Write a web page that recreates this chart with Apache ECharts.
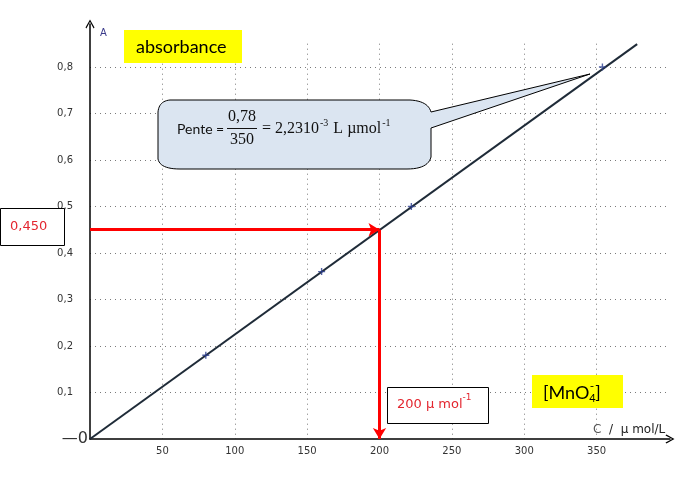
<!DOCTYPE html>
<html>
<head>
<meta charset="utf-8">
<script src="https://cdn.jsdelivr.net/npm/echarts@6/dist/echarts.min.js"></script>
<style>html,body{margin:0;padding:0;background:#fff}#c{width:683px;height:483px}</style>
</head>
<body>
<div id="c"></div>
<script>
// measured points (C in µmol/L, absorbance A)
const ptC = [80, 160, 222, 354];
const ptA = [0.18, 0.36, 0.50, 0.80];
// calibration line endpoints
const fitC = [0, 378];
const fitA = [0, 0.849];
// reading arrows
const readC = 200;
const readA = 0.45;
// axis ranges
const xMin = 0, xMax = 400, xStep = 50;
const yMin = 0, yMax = 0.85, yStep = 0.1;

const chart = echarts.init(document.getElementById('c'), null, {renderer: 'canvas'});
const chevron = 'path://M5,0 L10,9 L9,10 L5,2.6 L1,10 L0,9 Z';
const plus = 'path://M4,0 L6,0 L6,4 L10,4 L10,6 L6,6 L6,10 L4,10 L4,6 L0,6 L0,4 L4,4 Z';
const red = '#e3262f';

const mctx = document.createElement('canvas').getContext('2d');
function W(text, font) { mctx.font = font; return mctx.measureText(text).width; }

function T(x, y, text, font, fill, align, z) {
  return {type: 'text', x: x, y: y, z: z || 20,
    style: {text: text, font: font, fill: fill || '#000',
      align: align || 'left', verticalAlign: 'middle',
      textAlign: align || 'left', textVerticalAlign: 'middle'}};
}
// sequence of text pieces laid out left to right
function seq(x, y, parts, fill) {
  const out = [];
  let cx = x;
  parts.forEach(p => {
    out.push(T(cx + (p.dx || 0), y + (p.dy || 0), p.t, p.f, fill));
    cx += W(p.t, p.f) + (p.dx || 0);
  });
  return out;
}
// sample a path of straight and quadratic segments into polygon points
function bubble(cmds) {
  const pts = [];
  let last = null;
  cmds.forEach(c => {
    if (c.length === 2) { pts.push(c); last = c; }
    else {
      const [qx, qy, ex, ey] = c;
      for (let i = 1; i <= 12; i++) {
        const t = i / 12, u = 1 - t;
        pts.push([u * u * last[0] + 2 * u * t * qx + t * t * ex, u * u * last[1] + 2 * u * t * qy + t * t * ey]);
      }
      last = [ex, ey];
    }
  });
  return pts;
}

const serif = '16px "Liberation Serif"';
const serifS = '10px "Liberation Serif"';

const option = {
  animation: false,
  backgroundColor: '#fff',
  grid: [
    {left: 90, right: 14, top: 43.7, bottom: 44},
    {left: 90, right: 13, top: 24, bottom: 44}
  ],
  xAxis: [
    {type: 'value', gridIndex: 0, min: xMin, max: xMax, interval: xStep,
      axisLine: {show: false}, axisTick: {show: false},
      axisLabel: {fontFamily: 'DejaVu Sans', fontSize: 10, color: '#333', margin: 7,
        formatter: v => (v === 0 || v === xMax) ? '' : String(v)},
      splitLine: {show: true, showMinLine: false, showMaxLine: false,
        lineStyle: {color: '#7a7a7a', width: 1, type: [1, 4]}}},
    {type: 'value', gridIndex: 1, min: 0, max: 1,
      axisLine: {show: true, onZero: false, lineStyle: {color: '#000', width: 1.5},
        symbol: ['none', chevron], symbolSize: [12, 9]},
      axisTick: {show: false}, axisLabel: {show: false}, splitLine: {show: false},
      name: '{c|C}{s|  /  µ mol/L}', nameLocation: 'end', nameGap: -77,
      nameTextStyle: {verticalAlign: 'bottom', align: 'left', padding: [0, 0, 3, 0],
        rich: {c: {fontFamily: 'DejaVu Sans', fontSize: 12, color: '#555'},
               s: {fontFamily: 'DejaVu Sans', fontSize: 12, color: '#222'}}}}
  ],
  yAxis: [
    {type: 'value', gridIndex: 0, min: yMin, max: yMax, interval: yStep,
      axisLine: {show: false}, axisTick: {show: false},
      axisLabel: {margin: 2, showMaxLabel: false,
        formatter: v => v === 0 ? '{z|—0}' : (v > 0.82 ? '' : '{n|' + v.toFixed(1).replace('.', ',') + '}'),
        rich: {z: {fontFamily: 'DejaVu Sans', fontSize: 16, color: '#333'},
               n: {fontFamily: 'DejaVu Sans', fontSize: 10, color: '#333', padding: [0, 15, 0, 0]}}},
      splitLine: {show: true, showMinLine: false, showMaxLine: false,
        lineStyle: {color: '#7a7a7a', width: 1, type: [1, 4]}}},
    {type: 'value', gridIndex: 1, min: 0, max: 1,
      axisLine: {show: true, onZero: false, lineStyle: {color: '#000', width: 1.5},
        symbol: ['none', chevron], symbolSize: [12, 9]},
      axisTick: {show: false}, axisLabel: {show: false}, splitLine: {show: false},
      name: 'A', nameLocation: 'end', nameGap: -9,
      nameTextStyle: {fontFamily: 'DejaVu Sans', fontSize: 10, color: '#3a3a8a',
        align: 'left', verticalAlign: 'middle', padding: [0, 0, 0, 10]}}
  ],
  series: [
    {type: 'line', xAxisIndex: 0, yAxisIndex: 0, z: 3,
      data: fitC.map((c, i) => [c, fitA[i]]), showSymbol: false, silent: true,
      lineStyle: {color: '#1f2b38', width: 2}},
    {type: 'scatter', xAxisIndex: 0, yAxisIndex: 0, z: 4,
      data: ptC.map((c, i) => [c, ptA[i]]), symbol: plus, symbolSize: 7,
      itemStyle: {color: '#2b3d8f'}, silent: true,
      markLine: {silent: true, symbol: ['none', 'arrow'], symbolSize: [10, 11],
        label: {show: false}, emphasis: {disabled: true},
        lineStyle: {color: '#ff0000', width: 3, type: 'solid'},
        data: [
          [{coord: [0, readA]}, {coord: [readC, readA]}],
          [{coord: [readC, readA]}, {coord: [readC, 0]}]
        ]}}
  ],
  graphic: [].concat(
    [
      {type: 'rect', z: 10, shape: {x: 124, y: 30, width: 118, height: 33}, style: {fill: '#ffff00'}},
      T(136, 47, 'absorbance', '18px Lato', '#000'),
      {type: 'rect', z: 10, shape: {x: 532, y: 375, width: 91, height: 33}, style: {fill: '#ffff00'}}
    ],
    seq(543, 393, [
      {t: '[MnO', f: '18px Lato'},
      {t: '4', f: '11px Lato', dy: 5},
      {t: '-', f: '12px Lato', dy: -7, dx: -6},
      {t: ']', f: '18px Lato', dx: 1}
    ], '#000'),
    [
      {type: 'rect', z: 10, shape: {x: 0.5, y: 208.5, width: 64, height: 37}, style: {fill: '#fff', stroke: '#000', lineWidth: 1}},
      T(10, 227, '0,450', '13px "DejaVu Sans"', red),
      {type: 'rect', z: 10, shape: {x: 387.5, y: 387.5, width: 101, height: 36}, style: {fill: '#fff', stroke: '#000', lineWidth: 1}}
    ],
    seq(397, 405, [
      {t: '200 µ mol', f: '13px "DejaVu Sans"'},
      {t: '-1', f: '9px "DejaVu Sans"', dy: -7}
    ], red),
    [
      {type: 'polygon', z: 1,
        shape: {points: bubble([[170, 100], [410, 100], [428, 101, 431, 112], [590, 74], [431, 128], [431, 157],
          [428, 169, 407, 169], [180, 169], [160, 169, 158, 159], [158, 112], [159, 101, 170, 100]])},
        style: {fill: '#dbe5f1', stroke: '#000', lineWidth: 1}},
      T(177, 129, 'Pente =', '14px Lato', '#111'),
      T(242, 117, '0,78', serif, '#111', 'center'),
      {type: 'line', z: 20, shape: {x1: 227, y1: 128.5, x2: 257, y2: 128.5}, style: {stroke: '#111', lineWidth: 1}},
      T(242, 140, '350', serif, '#111', 'center')
    ],
    seq(262, 129, [
      {t: '= 2,2310', f: serif},
      {t: '-3', f: serifS, dy: -6, dx: 1},
      {t: ' L µmol', f: serif, dx: 1},
      {t: '-1', f: serifS, dy: -6, dx: 1}
    ], '#111')
  )
};
chart.setOption(option);
</script>
</body>
</html>
